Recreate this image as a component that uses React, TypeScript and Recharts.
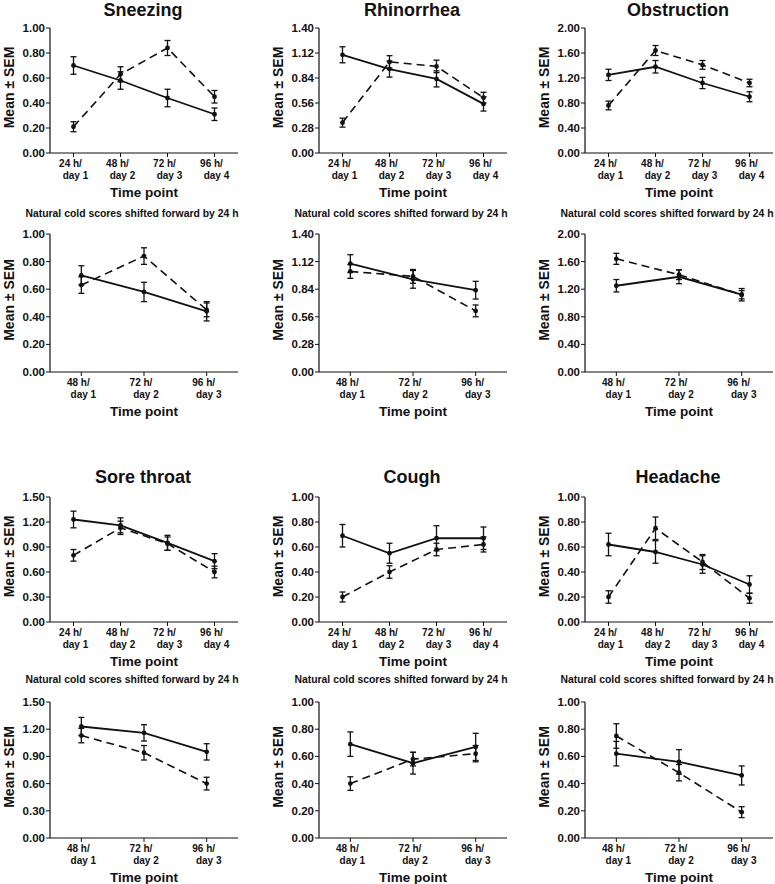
import { LineChart, Line, XAxis, YAxis, ErrorBar } from "recharts"

const FONT = "'Liberation Sans', Arial, Helvetica, sans-serif"
const INK = "#111"
const PLOT_W = 188

// time point categories ("top line|bottom line")
const days4 = ["24 h/|day 1", "48 h/|day 2", "72 h/|day 3", "96 h/|day 4"]
const days3 = ["48 h/|day 1", "72 h/|day 2", "96 h/|day 3"]

// y tick sets
const ticks10 = [0, 0.2, 0.4, 0.6, 0.8, 1.0]
const ticks14 = [0, 0.28, 0.56, 0.84, 1.12, 1.4]
const ticks20 = [0, 0.4, 0.8, 1.2, 1.6, 2.0]
const ticks15 = [0, 0.3, 0.6, 0.9, 1.2, 1.5]

// solid line = experimental, dashed line = natural cold (mean and SEM)
const sneezingSolid = [0.7, 0.58, 0.44, 0.31]
const sneezingSolidSem = [0.07, 0.07, 0.07, 0.05]
const sneezingDashed = [0.21, 0.63, 0.84, 0.45]
const sneezingDashedSem = [0.04, 0.06, 0.06, 0.05]

const rhinoSolid = [1.1, 0.94, 0.83, 0.55]
const rhinoSolidSem = [0.09, 0.09, 0.09, 0.08]
const rhinoDashed = [0.34, 1.02, 0.97, 0.62]
const rhinoDashedSem = [0.05, 0.07, 0.07, 0.06]

const obstructSolid = [1.25, 1.38, 1.12, 0.9]
const obstructSolidSem = [0.09, 0.1, 0.09, 0.08]
const obstructDashed = [0.76, 1.64, 1.41, 1.12]
const obstructDashedSem = [0.07, 0.08, 0.07, 0.06]

const throatSolid = [1.23, 1.16, 0.95, 0.73]
const throatSolidSem = [0.1, 0.09, 0.09, 0.09]
const throatDashed = [0.8, 1.13, 0.94, 0.6]
const throatDashedSem = [0.07, 0.08, 0.08, 0.07]

const coughSolid = [0.69, 0.55, 0.67, 0.67]
const coughSolidSem = [0.09, 0.08, 0.1, 0.09]
const coughDashed = [0.2, 0.4, 0.58, 0.62]
const coughDashedSem = [0.04, 0.05, 0.05, 0.06]

const headSolid = [0.62, 0.56, 0.46, 0.3]
const headSolidSem = [0.09, 0.09, 0.07, 0.07]
const headDashed = [0.2, 0.75, 0.48, 0.19]
const headDashedSem = [0.05, 0.09, 0.06, 0.04]

const SUBTITLE = "Natural cold scores shifted forward by 24 h"

const colX = [50, 319, 585]
const rows = [
  { yTop: 28, yBot: 153, textY: 16, shifted: false },
  { yTop: 234, yBot: 372, textY: 217, shifted: true },
  { yTop: 497, yBot: 622, textY: 483, shifted: false },
  { yTop: 702, yBot: 838, textY: 683, shifted: true },
]

const symptoms = [
  [
    { title: "Sneezing", s: sneezingSolid, ss: sneezingSolidSem, d: sneezingDashed, ds: sneezingDashedSem, ticks: ticks10 },
    { title: "Rhinorrhea", s: rhinoSolid, ss: rhinoSolidSem, d: rhinoDashed, ds: rhinoDashedSem, ticks: ticks14 },
    { title: "Obstruction", s: obstructSolid, ss: obstructSolidSem, d: obstructDashed, ds: obstructDashedSem, ticks: ticks20 },
  ],
  [
    { title: "Sore throat", s: throatSolid, ss: throatSolidSem, d: throatDashed, ds: throatDashedSem, ticks: ticks15 },
    { title: "Cough", s: coughSolid, ss: coughSolidSem, d: coughDashed, ds: coughDashedSem, ticks: ticks10 },
    { title: "Headache", s: headSolid, ss: headSolidSem, d: headDashed, ds: headDashedSem, ticks: ticks10 },
  ],
]

const XTick = (props: any) => {
  const { x, y, payload } = props
  const [a, b] = String(payload.value).split("|")
  const st = { fill: INK, fontSize: 10, fontWeight: 700, fontFamily: FONT }
  return (
    <g>
      <text x={x - 3} y={y + 8} textAnchor="middle" {...st}>{a}</text>
      <text x={x + 2} y={y + 20} textAnchor="middle" {...st}>{b}</text>
    </g>
  )
}

function Panel({ axisX, yTop, yBot, cats, solid, solidSem, dashed, dashedSem, yTicks }: any) {
  const data = cats.map((c: string, i: number) => ({
    cat: c,
    a: solid[i],
    aSem: solidSem[i],
    b: dashed[i],
    bSem: dashedSem[i],
  }))
  const pad = PLOT_W / (2 * cats.length)
  const plotH = yBot - yTop
  return (
    <div style={{ position: "absolute", left: axisX - 50, top: yTop - 10 }}>
      <LineChart
        width={50 + PLOT_W + 2}
        height={10 + plotH + 50}
        data={data}
        margin={{ top: 10, right: 2, bottom: 0, left: 0 }}
      >
        <XAxis
          dataKey="cat"
          padding={{ left: pad, right: pad }}
          interval={0}
          height={50}
          tickSize={4}
          tick={<XTick />}
          axisLine={{ stroke: INK, strokeWidth: 1.2 }}
          tickLine={{ stroke: INK }}
          label={{
            value: "Time point",
            position: "insideBottom",
            offset: 6,
            fill: INK,
            fontSize: 13.5,
            fontWeight: 700,
            fontFamily: FONT,
          }}
        />
        <YAxis
          domain={[0, yTicks[yTicks.length - 1]]}
          ticks={yTicks}
          interval={0}
          width={50}
          tickSize={4}
          tickMargin={1}
          tickFormatter={(v: number) => v.toFixed(2)}
          tick={{ fill: INK, fontSize: 11.5, fontWeight: 700, fontFamily: FONT }}
          axisLine={{ stroke: INK, strokeWidth: 1.2 }}
          tickLine={{ stroke: INK }}
        />
        <Line
          dataKey="b"
          stroke={INK}
          strokeWidth={1.6}
          strokeDasharray="8 5"
          dot={{ r: 2.4, fill: INK, stroke: "none" }}
          activeDot={false}
          isAnimationActive={false}
        >
          <ErrorBar dataKey="bSem" direction="y" width={3} stroke={INK} strokeWidth={1.3} />
        </Line>
        <Line
          dataKey="a"
          stroke={INK}
          strokeWidth={1.8}
          dot={{ r: 2.4, fill: INK, stroke: "none" }}
          activeDot={false}
          isAnimationActive={false}
        >
          <ErrorBar dataKey="aSem" direction="y" width={3} stroke={INK} strokeWidth={1.3} />
        </Line>
      </LineChart>
    </div>
  )
}

export default function App() {
  const panels: any[] = []
  const texts: any[] = []
  rows.forEach((row, r) => {
    const group = symptoms[Math.floor(r / 2)]
    group.forEach((sym, c) => {
      const axisX = colX[c]
      const cats = row.shifted ? days3 : days4
      // shifted panels: experimental days 1-3 against natural cold days 2-4
      const solid = row.shifted ? sym.s.slice(0, 3) : sym.s
      const solidSem = row.shifted ? sym.ss.slice(0, 3) : sym.ss
      const dashed = row.shifted ? sym.d.slice(1) : sym.d
      const dashedSem = row.shifted ? sym.ds.slice(1) : sym.ds
      panels.push(
        <Panel
          key={`p${r}${c}`}
          axisX={axisX}
          yTop={row.yTop}
          yBot={row.yBot}
          cats={cats}
          solid={solid}
          solidSem={solidSem}
          dashed={dashed}
          dashedSem={dashedSem}
          yTicks={sym.ticks}
        />
      )
      const cx = axisX + PLOT_W / 2
      if (row.shifted) {
        texts.push(
          <text key={`t${r}${c}`} x={cx - 12} y={row.textY} textAnchor="middle" fontSize={10.4} fontWeight={700} fill={INK}>
            {SUBTITLE}
          </text>
        )
      } else {
        texts.push(
          <text key={`t${r}${c}`} x={cx - 1} y={row.textY} textAnchor="middle" fontSize={18} fontWeight={700} fill={INK}>
            {sym.title}
          </text>
        )
      }
      const ly = (row.yTop + row.yBot) / 2 - 3
      const lx = axisX - 41
      texts.push(
        <text
          key={`y${r}${c}`}
          x={lx}
          y={ly}
          transform={`rotate(-90 ${lx} ${ly})`}
          textAnchor="middle"
          dominantBaseline="central"
          fontSize={14}
          fontWeight={700}
          fill={INK}
        >
          Mean ± SEM
        </text>
      )
    })
  })

  return (
    <div
      style={{
        position: "absolute",
        left: 0,
        top: 0,
        width: 775,
        height: 884,
        background: "#fff",
        overflow: "hidden",
        fontFamily: FONT,
      }}
    >
      {panels}
      <svg
        width={775}
        height={884}
        style={{ position: "absolute", left: 0, top: 0, pointerEvents: "none", fontFamily: FONT }}
      >
        {texts}
      </svg>
    </div>
  )
}
